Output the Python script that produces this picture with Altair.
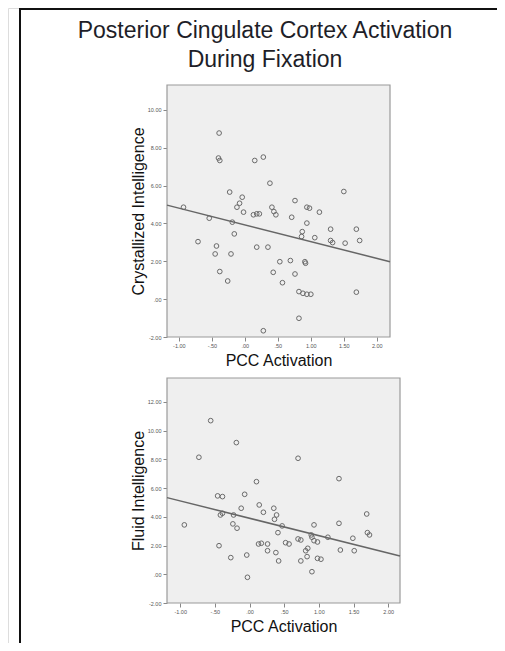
import altair as alt
import pandas as pd

# ---------------- data ----------------
TITLE_LINES = ["Posterior Cingulate Cortex Activation", "During Fixation"]
X_TITLE = "PCC Activation"
Y_TITLE_TOP = "Crystallized Intelligence"
Y_TITLE_BOTTOM = "Fluid Intelligence"

X_TICKS = [-1.0, -0.5, 0.0, 0.5, 1.0, 1.5, 2.0]
X_TICK_LABELS = ["-1.00", "-.50", ".00", ".50", "1.00", "1.50", "2.00"]

TOP_Y_TICKS = [-2, 0, 2, 4, 6, 8, 10]
TOP_Y_TICK_LABELS = ["-2.00", ".00", "2.00", "4.00", "6.00", "8.00", "10.00"]
BOT_Y_TICKS = [-2, 0, 2, 4, 6, 8, 10, 12]
BOT_Y_TICK_LABELS = ["-2.00", ".00", "2.00", "4.00", "6.00", "8.00", "10.00", "12.00"]

TOP_X_DOMAIN = [-1.18, 2.2]
TOP_Y_DOMAIN = [-2.0, 11.32]
BOT_X_DOMAIN = [-1.19, 2.17]
BOT_Y_DOMAIN = [-2.0, 13.67]

top_x = [-0.39, -0.40, -0.38, 0.15, 0.28, 0.38, -0.23, -0.04, -0.08, -0.12,
         -0.02, 0.13, 0.18, 0.22, 0.41, 0.44, 0.47, -0.93, -0.54, -0.19,
         -0.16, -0.71, -0.43, 0.18, 0.35, -0.45, -0.21, -0.38, -0.26, 0.43,
         0.28, 1.50, 0.76, 0.94, 0.98, 1.13, 0.71, 0.94, 1.30, 1.69,
         0.87, 0.86, 1.06, 1.30, 1.33, 1.52, 1.74, 0.53, 0.69, 0.91,
         0.92, 0.76, 0.57, 0.82, 0.88, 0.94, 1.00, 1.69, 0.82]
top_y = [8.78, 7.46, 7.33, 7.33, 7.51, 6.13, 5.66, 5.39, 5.07, 4.86,
         4.60, 4.46, 4.51, 4.51, 4.86, 4.63, 4.46, 4.86, 4.28, 4.07,
         3.45, 3.04, 2.81, 2.75, 2.75, 2.39, 2.39, 1.46, 0.96, 1.42,
         -1.67, 5.69, 5.21, 4.86, 4.81, 4.60, 4.33, 4.02, 3.70, 3.70,
         3.57, 3.31, 3.25, 3.10, 2.99, 2.96, 3.10, 1.98, 2.04, 1.98,
         1.90, 1.33, 0.87, 0.40, 0.31, 0.26, 0.26, 0.37, -1.01]
top_fit_x = [-1.18, 2.2]
top_fit_y = [4.97, 1.98]

bot_x = [-0.56, -0.19, -0.73, 0.10, -0.46, -0.39, -0.07, 0.14, -0.12, 0.20,
         0.35, 0.39, -0.39, -0.42, -0.23, -0.94, -0.24, -0.18, 0.36, 0.41,
         -0.44, 0.13, 0.17, 0.26, 0.26, 0.38, 0.42, -0.27, -0.04, -0.03,
         0.70, 1.29, 1.69, 0.47, 0.93, 1.29, 1.70, 1.73, 0.89, 0.90,
         0.70, 0.74, 0.93, 0.98, 1.13, 1.49, 0.52, 0.57, 1.31, 1.51,
         0.84, 0.81, 0.83, 0.98, 1.03, 0.74, 0.90]
bot_y = [10.70, 9.17, 8.15, 6.45, 5.46, 5.41, 5.57, 4.83, 4.60, 4.32,
         4.60, 4.13, 4.25, 4.13, 4.13, 3.44, 3.51, 3.21, 3.83, 2.90,
         1.99, 2.11, 2.16, 2.11, 1.64, 1.51, 0.93, 1.16, 1.34, -0.21,
         8.08, 6.66, 4.20, 3.37, 3.44, 3.55, 2.90, 2.74, 2.74, 2.58,
         2.46, 2.39, 2.34, 2.25, 2.58, 2.51, 2.20, 2.11, 1.69, 1.64,
         1.81, 1.64, 1.23, 1.11, 1.05, 0.93, 0.18]
bot_fit_x = [-1.19, 2.17]
bot_fit_y = [5.34, 1.28]

# ---------------- layout / style ----------------
W, H = 489, 635
FONT = "Liberation Sans"


def label_expr(values, labels):
    vals = ",".join(repr(float(v)) for v in values)
    labs = ",".join("'" + l + "'" for l in labels)
    return f"[{labs}][indexof([{vals}], datum.value)]"


def panel(xs, ys, fx, fy, xdom, ydom, xrng, yrng, yticks, ylabels, ytitle, x_off, y_off):
    xscale = alt.Scale(domain=xdom, range=xrng, nice=False, zero=False)
    yscale = alt.Scale(domain=ydom, range=yrng, nice=False, zero=False)
    common = dict(grid=False, domain=False, tickColor="#888", tickSize=4,
                  labelFontSize=5.5, labelColor="#555", labelPadding=2,
                  titleFontSize=16, titleFont=FONT, titleColor="#111",
                  titleFontWeight="normal", labelFont=FONT)
    xaxis = alt.Axis(orient="bottom", offset=x_off, values=X_TICKS,
                     labelExpr=label_expr(X_TICKS, X_TICK_LABELS),
                     title=X_TITLE, titlePadding=4, **common)
    yaxis = alt.Axis(orient="left", offset=y_off, values=yticks,
                     labelExpr=label_expr(yticks, ylabels),
                     title=ytitle, titlePadding=1, **common)
    X = lambda f: alt.X(f, scale=xscale, axis=xaxis)
    Y = lambda f: alt.Y(f, scale=yscale, axis=yaxis)

    bg_df = pd.DataFrame({"x": [xdom[0]], "x2": [xdom[1]], "y": [ydom[0]], "y2": [ydom[1]]})
    bg = alt.Chart(bg_df).mark_rect(fill="#efefef", stroke="#9a9a9a", strokeWidth=1.2).encode(
        x=X("x:Q"), x2="x2", y=Y("y:Q"), y2="y2")
    pts = alt.Chart(pd.DataFrame({"x": xs, "y": ys})).mark_point(
        shape="circle", filled=False, size=22, strokeWidth=1, color="#6a6a6a", opacity=1
    ).encode(x=X("x:Q"), y=Y("y:Q"))
    fit = alt.Chart(pd.DataFrame({"x": fx, "y": fy})).mark_line(
        color="#666666", strokeWidth=1.5).encode(x=X("x:Q"), y=Y("y:Q"))
    return alt.layer(bg, pts, fit)


top_panel = panel(top_x, top_y, top_fit_x, top_fit_y, TOP_X_DOMAIN, TOP_Y_DOMAIN,
                  [159, 382], [329, 77], TOP_Y_TICKS, TOP_Y_TICK_LABELS, Y_TITLE_TOP,
                  x_off=329 - H, y_off=-159)
bot_panel = panel(bot_x, bot_y, bot_fit_x, bot_fit_y, BOT_X_DOMAIN, BOT_Y_DOMAIN,
                  [159, 392], [595, 370], BOT_Y_TICKS, BOT_Y_TICK_LABELS, Y_TITLE_BOTTOM,
                  x_off=595 - H, y_off=-159)

one = pd.DataFrame({"k": [0]})
frame_left = alt.Chart(one).mark_rule(color="#111", strokeWidth=2).encode(
    x=alt.value(12), y=alt.value(0), y2=alt.value(H))
frame_top = alt.Chart(one).mark_rule(color="#111", strokeWidth=2).encode(
    x=alt.value(12), x2=alt.value(W), y=alt.value(1))

title = alt.Chart(pd.DataFrame({"t": ["\n".join(TITLE_LINES)]})).mark_text(
    font=FONT, fontSize=23, color="#1e1e28", lineBreak="\n", lineHeight=29,
    align="center", baseline="alphabetic"
).encode(x=alt.value(257), y=alt.value(30), text="t:N")

chart = alt.layer(frame_left, frame_top, title, top_panel, bot_panel).resolve_scale(
    x="independent", y="independent"
).properties(
    width=W, height=H, padding=0, autosize=alt.AutoSizeParams(type="none")
).configure_view(stroke=None).configure(font=FONT, background="white")

chart.save("out.html", embed_options={"renderer": "svg", "actions": False})
